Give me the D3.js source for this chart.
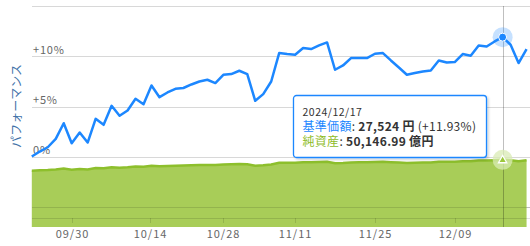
<!DOCTYPE html>
<html>
<head>
<meta charset="utf-8">
<script src="https://cdn.jsdelivr.net/npm/d3@7"></script>
<style>
  body { margin: 0; background: #fff; }
  svg { display: block; font-family: "Noto Sans CJK JP", "Noto Sans", sans-serif; }
</style>
</head>
<body>
<div id="chart"></div>
<script>
// trading days shown on the chart (ordinal axis, no weekends / JP holidays)
var dates = [
  "2024-09-20", "2024-09-24", "2024-09-25", "2024-09-26", "2024-09-27",
  "2024-09-30", "2024-10-01", "2024-10-02", "2024-10-03", "2024-10-04",
  "2024-10-07", "2024-10-08", "2024-10-09", "2024-10-10", "2024-10-11",
  "2024-10-15", "2024-10-16", "2024-10-17", "2024-10-18", "2024-10-21",
  "2024-10-22", "2024-10-23", "2024-10-24", "2024-10-25", "2024-10-28",
  "2024-10-29", "2024-10-30", "2024-10-31", "2024-11-01", "2024-11-05",
  "2024-11-06", "2024-11-07", "2024-11-08", "2024-11-11", "2024-11-12",
  "2024-11-13", "2024-11-14", "2024-11-15", "2024-11-18", "2024-11-19",
  "2024-11-20", "2024-11-21", "2024-11-22", "2024-11-25", "2024-11-26",
  "2024-11-27", "2024-11-28", "2024-11-29", "2024-12-02", "2024-12-03",
  "2024-12-04", "2024-12-05", "2024-12-06", "2024-12-09", "2024-12-10",
  "2024-12-11", "2024-12-12", "2024-12-13", "2024-12-16", "2024-12-17",
  "2024-12-18", "2024-12-19", "2024-12-20"
];

// パフォーマンス (%)
var performance = [
  0.0, 0.5, 0.93, 1.77, 3.33, 1.33, 2.4, 1.4, 3.77, 3.17,
  5.07, 4.07, 4.6, 5.77, 5.23, 7.1, 5.93, 6.4, 6.77, 6.85,
  7.2, 7.5, 7.67, 7.34, 8.17, 8.24, 8.57, 8.24, 5.57, 6.24,
  7.5, 10.34, 10.24, 10.17, 10.84, 10.74, 11.1, 11.4, 8.67, 9.1,
  9.84, 9.84, 9.84, 10.27, 10.34, 9.6, 8.9, 8.17, 8.34, 8.5,
  8.6, 9.6, 9.4, 9.44, 10.24, 10.07, 11.1, 11.0, 11.5, 11.93,
  11.17, 9.34, 10.74
];

// 純資産 (億円)
var netAssets = [
  42030, 42287, 42516, 42917, 43624, 42827, 43327, 42952, 44005, 43799,
  44655, 44279, 44553, 45101, 44921, 45769, 45319, 45570, 45779, 45863,
  46064, 46243, 46367, 46275, 46684, 46765, 46959, 46867, 45760, 46101,
  46698, 47984, 47992, 48013, 48357, 48366, 48575, 48759, 47615, 47855,
  48231, 48282, 48334, 48575, 48658, 48383, 48125, 47853, 47979, 48101,
  48197, 48692, 48655, 48724, 49132, 49108, 49620, 49627, 49903, 50146.99,
  49859, 49089, 49770
];

var yTicks = [-5, 0, 5, 10, 15];
var yTickLabels = ["", "0%", "+5%", "+10%", ""];
var xTickDates = ["2024-09-30", "2024-10-14", "2024-10-28", "2024-11-11", "2024-11-25", "2024-12-09"];
var xTickLabels = ["09/30", "10/14", "10/28", "11/11", "11/25", "12/09"];

var hoverIndex = 59;
var hoverNav = 27524;

var w = 530;
var h = 246;
var left = 32;
var plotBottom = 227;
var axisY = 218;
var blue = "#1c87ff";
var green = "#8dbf2c";

var parse = d3.timeParse("%Y-%m-%d");
var times = dates.map(function(d) { return parse(d).getTime(); });

// position of any calendar date on the ordinal axis
function ordinalIndex(t) {
  var i = d3.bisectRight(times, t) - 1;
  if (i < 0) return 0;
  if (i >= times.length - 1) return times.length - 1;
  return i + (t - times[i]) / (times[i + 1] - times[i]);
}

var x = d3.scaleLinear()
  .domain([0, dates.length - 1])
  .range([31.8, 31.8 + 7.98 * (dates.length - 1)]);

var y = d3.scaleLinear()
  .domain([-5, 15])
  .range([206.6, 6.4]);

var yNet = d3.scaleLinear()
  .domain([0, 165000])
  .range([plotBottom, 6]);

var svg = d3.select("#chart")
  .append("svg")
  .attr("width", w)
  .attr("height", h);

var defs = svg.append("defs");
defs.append("filter")
  .attr("id", "shadow")
  .attr("x", "-10%").attr("y", "-10%")
  .attr("width", "130%").attr("height", "140%")
  .append("feDropShadow")
  .attr("dx", 1.5).attr("dy", 1.5)
  .attr("stdDeviation", 1.2)
  .attr("flood-color", "#000")
  .attr("flood-opacity", 0.18);

// gridlines under everything
svg.append("g")
  .selectAll("line")
  .data(yTicks)
  .enter()
  .append("line")
  .attr("x1", left)
  .attr("x2", w)
  .attr("y1", function(d) { return Math.round(y(d)) + 0.5; })
  .attr("y2", function(d) { return Math.round(y(d)) + 0.5; })
  .attr("stroke", "#d8d8d8");

// y labels
svg.append("g")
  .selectAll("text")
  .data(yTicks)
  .enter()
  .append("text")
  .attr("x", left + 1)
  .attr("y", function(d) { return y(d) - 2.5; })
  .attr("font-size", 11)
  .attr("letter-spacing", 0.8)
  .attr("fill", "#666")
  .text(function(d, i) { return yTickLabels[i]; });

// net assets area
var area = d3.area()
  .x(function(d, i) { return x(i); })
  .y0(plotBottom)
  .y1(function(d) { return yNet(d); });

svg.append("path")
  .datum(netAssets)
  .attr("d", area)
  .attr("fill", "#a8cd58");

svg.append("path")
  .datum(netAssets)
  .attr("d", d3.line().x(function(d, i) { return x(i); }).y(function(d) { return yNet(d); }))
  .attr("fill", "none")
  .attr("stroke", green)
  .attr("stroke-width", 2.5);

// gridlines showing through the area
svg.append("g")
  .selectAll("line")
  .data([-5])
  .enter()
  .append("line")
  .attr("x1", left)
  .attr("x2", w)
  .attr("y1", function(d) { return Math.round(y(d)) + 0.5; })
  .attr("y2", function(d) { return Math.round(y(d)) + 0.5; })
  .attr("stroke", "#000")
  .attr("stroke-opacity", 0.12);

// x axis line + ticks
svg.append("line")
  .attr("x1", left)
  .attr("x2", w)
  .attr("y1", axisY + 0.5)
  .attr("y2", axisY + 0.5)
  .attr("stroke", "#000")
  .attr("stroke-opacity", 0.12);

var xTicks = svg.append("g")
  .selectAll("g")
  .data(xTickDates)
  .enter()
  .append("g")
  .attr("transform", function(d) {
    return "translate(" + (Math.round(x(ordinalIndex(parse(d).getTime()))) + 0.5) + ",0)";
  });

xTicks.append("line")
  .attr("y1", axisY)
  .attr("y2", axisY + 5)
  .attr("stroke", "#000")
  .attr("stroke-opacity", 0.12);

xTicks.append("text")
  .attr("y", 237.5)
  .attr("text-anchor", "middle")
  .attr("font-size", 11)
  .attr("letter-spacing", 1)
  .attr("fill", "#666")
  .text(function(d, i) { return xTickLabels[i]; });

// y axis title
svg.append("text")
  .attr("transform", "translate(21,106) rotate(-90)")
  .attr("text-anchor", "middle")
  .attr("font-size", 12)
  .attr("fill", "#3f72a8")
  .text("パフォーマンス");

// crosshair
var hx = Math.round(x(hoverIndex)) + 0.5;
svg.append("line")
  .attr("x1", hx)
  .attr("x2", hx)
  .attr("y1", 6)
  .attr("y2", plotBottom)
  .attr("stroke", "#000")
  .attr("stroke-opacity", 0.25);

// performance line
var line = d3.line()
  .x(function(d, i) { return x(i); })
  .y(function(d) { return y(d); });

svg.append("path")
  .datum(performance)
  .attr("d", line)
  .attr("fill", "none")
  .attr("stroke", blue)
  .attr("stroke-width", 2.5)
  .attr("stroke-linejoin", "round");

// hover markers
svg.append("circle")
  .attr("cx", x(hoverIndex))
  .attr("cy", y(performance[hoverIndex]))
  .attr("r", 10)
  .attr("fill", blue)
  .attr("fill-opacity", 0.25);

svg.append("circle")
  .attr("cx", x(hoverIndex))
  .attr("cy", y(performance[hoverIndex]))
  .attr("r", 4)
  .attr("fill", blue)
  .attr("stroke", "#fff")
  .attr("stroke-width", 1);

svg.append("circle")
  .attr("cx", x(hoverIndex))
  .attr("cy", yNet(netAssets[hoverIndex]))
  .attr("r", 10)
  .attr("fill", "#d9ebb4")
  .attr("fill-opacity", 0.75);

svg.append("path")
  .attr("d", d3.symbol().type(d3.symbolTriangle).size(30))
  .attr("transform", "translate(" + x(hoverIndex) + "," + (yNet(netAssets[hoverIndex]) + 0.5) + ")")
  .attr("fill", "#9cc83c")
  .attr("stroke", "#fff")
  .attr("stroke-width", 1.3);

// tooltip
var tip = svg.append("g").attr("transform", "translate(293.5,95.5)");

tip.append("rect")
  .attr("width", 193)
  .attr("height", 62)
  .attr("rx", 3)
  .attr("fill", "#fff")
  .attr("stroke", blue)
  .attr("stroke-width", 1.3)
  .attr("filter", "url(#shadow)");

tip.append("text")
  .attr("x", 9)
  .attr("y", 20)
  .attr("font-size", 10.5)
  .attr("letter-spacing", 0.5)
  .attr("fill", "#333")
  .text(d3.timeFormat("%Y/%m/%d")(parse(dates[hoverIndex])));

var t1 = tip.append("text")
  .attr("x", 9)
  .attr("y", 35)
  .attr("font-size", 12)
  .attr("letter-spacing", 0.3)
  .attr("fill", "#333");
t1.append("tspan").attr("fill", blue).text("基準価額");
t1.append("tspan").text(": ");
t1.append("tspan").attr("font-weight", "bold").text(d3.format(",")(hoverNav) + " 円");
t1.append("tspan").text(" (" + d3.format("+.2f")(performance[hoverIndex]) + "%)");

var t2 = tip.append("text")
  .attr("x", 9)
  .attr("y", 50)
  .attr("font-size", 12)
  .attr("letter-spacing", 0.3)
  .attr("fill", "#333");
t2.append("tspan").attr("fill", "#8dbb1f").text("純資産");
t2.append("tspan").text(": ");
t2.append("tspan").attr("font-weight", "bold").text(d3.format(",.2f")(netAssets[hoverIndex]) + " 億円");
</script>
</body>
</html>
